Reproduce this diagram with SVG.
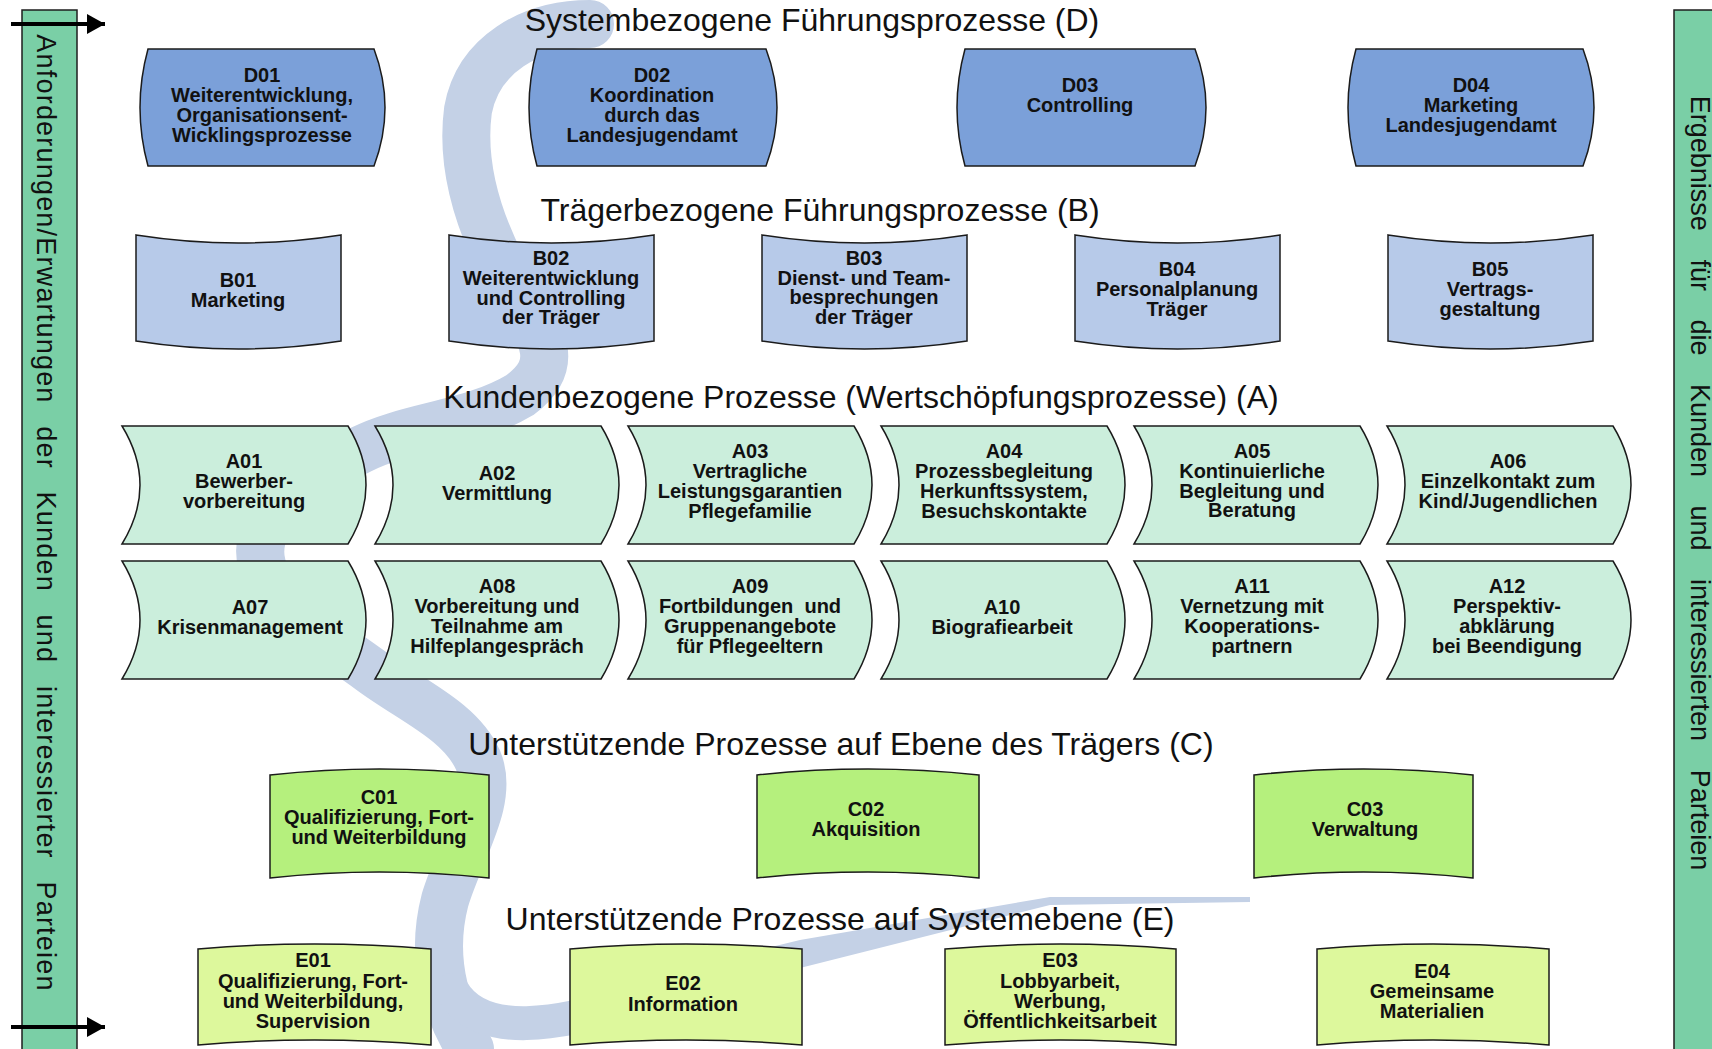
<svg xmlns="http://www.w3.org/2000/svg" width="1712" height="1049" viewBox="0 0 1712 1049">
<defs>
<style>
.title{font-family:"Liberation Sans",Arial,sans-serif;font-size:32px;fill:#111;text-anchor:middle}
.lbl{font-family:"Liberation Sans",Arial,sans-serif;font-size:20px;font-weight:bold;fill:#111;text-anchor:middle}
.bar{fill:#7acfa6;stroke:#1e1e1e;stroke-width:1.5}
.bartxt{font-family:"Liberation Sans",Arial,sans-serif;fill:#111;text-anchor:middle}
.sd{fill:#7ba0d9;stroke:#1b1b1b;stroke-width:1.5}
.sb{fill:#b7cae9;stroke:#1b1b1b;stroke-width:1.5}
.sa{fill:#cbeedc;stroke:#1b1b1b;stroke-width:1.5}
.sc{fill:#b5f07d;stroke:#1b1b1b;stroke-width:1.5}
.se{fill:#ddf89c;stroke:#1b1b1b;stroke-width:1.5}
.river{fill:none;stroke:#c4d1e6;stroke-linecap:round;stroke-linejoin:round}
.arr{stroke:#000;stroke-width:4;fill:none}
</style>
<marker id="ah" markerUnits="userSpaceOnUse" markerWidth="20" markerHeight="22" refX="18" refY="10" orient="auto">
<path d="M0,0 L18,10 L0,20 Z" fill="#000"/>
</marker>
</defs>
<rect width="1712" height="1049" fill="#fff"/>

<g id="background-river">
<path class="river" stroke-width="48" d="M 590,24 C 530,24 478,55 468,110 C 460,170 480,230 515,290 C 545,340 560,365 520,395 C 470,425 410,425 360,450 C 300,480 250,520 262,565 C 272,610 330,640 370,670 C 410,700 460,720 478,760 C 495,800 460,850 445,900 C 432,950 440,1000 470,1049"/>
<path class="river" stroke-width="34" d="M 452,990 C 480,1040 560,1025 640,1000"/>
<polygon fill="#c4d1e6" points="620,984 800,940 1050,897 1250,897 1250,902 1050,905 800,968 650,1017"/>
</g>

<g id="bar-left">
<rect class="bar" x="22" y="10" width="55" height="1050"/>
<text class="bartxt" font-size="27" letter-spacing="1.2" word-spacing="14" transform="translate(37,513) rotate(90)">Anforderungen/Erwartungen der Kunden und interessierter Parteien</text>
</g>
<g id="bar-right">
<rect class="bar" x="1674" y="10" width="60" height="1050"/>
<text class="bartxt" font-size="27" word-spacing="21" transform="translate(1691,483) rotate(90)">Ergebnisse für die Kunden und interessierten Parteien</text>
</g>

<g id="connectors">
<line class="arr" x1="11" y1="24" x2="105" y2="24" marker-end="url(#ah)"/>
<line class="arr" x1="11" y1="1027" x2="105" y2="1027" marker-end="url(#ah)"/>
</g>

<g id="titles">
<text class="title" x="812" y="31">Systembezogene Führungsprozesse (D)</text>
<text class="title" x="820" y="221">Trägerbezogene Führungsprozesse (B)</text>
<text class="title" x="861" y="408">Kundenbezogene Prozesse (Wertschöpfungsprozesse) (A)</text>
<text class="title" x="841" y="755">Unterstützende Prozesse auf Ebene des Trägers (C)</text>
<text class="title" x="840" y="930">Unterstützende Prozesse auf Systemebene (E)</text>
</g>

<g id="D01"><path class="sd" d="M148,49 L374,49 Q396,107.5 374,166 L148,166 Q132,107.5 148,49 Z"/>
<text class="lbl"><tspan x="262" y="82">D01</tspan><tspan x="262" y="102">Weiterentwicklung,</tspan><tspan x="262" y="122">Organisationsent-</tspan><tspan x="262" y="142">Wicklingsprozesse</tspan></text></g>
<g id="D02"><path class="sd" d="M537,49 L766,49 Q788,107.5 766,166 L537,166 Q521,107.5 537,49 Z"/>
<text class="lbl"><tspan x="652" y="82">D02</tspan><tspan x="652" y="102">Koordination</tspan><tspan x="652" y="122">durch das</tspan><tspan x="652" y="142">Landesjugendamt</tspan></text></g>
<g id="D03"><path class="sd" d="M965,49 L1195,49 Q1217,107.5 1195,166 L965,166 Q949,107.5 965,49 Z"/>
<text class="lbl"><tspan x="1080" y="92">D03</tspan><tspan x="1080" y="112">Controlling</tspan></text></g>
<g id="D04"><path class="sd" d="M1356,49 L1583,49 Q1605,107.5 1583,166 L1356,166 Q1340,107.5 1356,49 Z"/>
<text class="lbl"><tspan x="1471" y="92">D04</tspan><tspan x="1471" y="112">Marketing</tspan><tspan x="1471" y="132">Landesjugendamt</tspan></text></g>

<g id="B01"><path class="sb" d="M136,235 Q238.5,251 341,235 L341,341 Q238.5,357 136,341 Z"/>
<text class="lbl"><tspan x="238" y="287">B01</tspan><tspan x="238" y="307">Marketing</tspan></text></g>
<g id="B02"><path class="sb" d="M449,235 Q551.5,251 654,235 L654,341 Q551.5,357 449,341 Z"/>
<text class="lbl"><tspan x="551" y="265">B02</tspan><tspan x="551" y="285">Weiterentwicklung</tspan><tspan x="551" y="305">und Controlling</tspan><tspan x="551" y="324">der Träger</tspan></text></g>
<g id="B03"><path class="sb" d="M762,235 Q864.5,251 967,235 L967,341 Q864.5,357 762,341 Z"/>
<text class="lbl"><tspan x="864" y="265">B03</tspan><tspan x="864" y="285">Dienst- und Team-</tspan><tspan x="864" y="304">besprechungen</tspan><tspan x="864" y="324">der Träger</tspan></text></g>
<g id="B04"><path class="sb" d="M1075,235 Q1177.5,251 1280,235 L1280,341 Q1177.5,357 1075,341 Z"/>
<text class="lbl"><tspan x="1177" y="276">B04</tspan><tspan x="1177" y="296">Personalplanung</tspan><tspan x="1177" y="316">Träger</tspan></text></g>
<g id="B05"><path class="sb" d="M1388,235 Q1490.5,251 1593,235 L1593,341 Q1490.5,357 1388,341 Z"/>
<text class="lbl"><tspan x="1490" y="276">B05</tspan><tspan x="1490" y="296">Vertrags-</tspan><tspan x="1490" y="316">gestaltung</tspan></text></g>

<g id="A01"><path class="sa" d="M122,426 L348,426 Q384,485 348,544 L122,544 Q158,485 122,426 Z"/>
<text class="lbl"><tspan x="244" y="468">A01</tspan><tspan x="244" y="488">Bewerber-</tspan><tspan x="244" y="508">vorbereitung</tspan></text></g>
<g id="A02"><path class="sa" d="M375,426 L601,426 Q637,485 601,544 L375,544 Q411,485 375,426 Z"/>
<text class="lbl"><tspan x="497" y="480">A02</tspan><tspan x="497" y="500">Vermittlung</tspan></text></g>
<g id="A03"><path class="sa" d="M628,426 L854,426 Q890,485 854,544 L628,544 Q664,485 628,426 Z"/>
<text class="lbl"><tspan x="750" y="458">A03</tspan><tspan x="750" y="478">Vertragliche</tspan><tspan x="750" y="498">Leistungsgarantien</tspan><tspan x="750" y="518">Pflegefamilie</tspan></text></g>
<g id="A04"><path class="sa" d="M881,426 L1107,426 Q1143,485 1107,544 L881,544 Q917,485 881,426 Z"/>
<text class="lbl"><tspan x="1004" y="458">A04</tspan><tspan x="1004" y="478">Prozessbegleitung</tspan><tspan x="1004" y="498">Herkunftssystem,</tspan><tspan x="1004" y="518">Besuchskontakte</tspan></text></g>
<g id="A05"><path class="sa" d="M1134,426 L1360,426 Q1396,485 1360,544 L1134,544 Q1170,485 1134,426 Z"/>
<text class="lbl"><tspan x="1252" y="458">A05</tspan><tspan x="1252" y="478">Kontinuierliche</tspan><tspan x="1252" y="498">Begleitung und</tspan><tspan x="1252" y="517">Beratung</tspan></text></g>
<g id="A06"><path class="sa" d="M1387,426 L1613,426 Q1649,485 1613,544 L1387,544 Q1423,485 1387,426 Z"/>
<text class="lbl"><tspan x="1508" y="468">A06</tspan><tspan x="1508" y="488">Einzelkontakt zum</tspan><tspan x="1508" y="508">Kind/Jugendlichen</tspan></text></g>

<g id="A07"><path class="sa" d="M122,561 L348,561 Q384,620 348,679 L122,679 Q158,620 122,561 Z"/>
<text class="lbl"><tspan x="250" y="614">A07</tspan><tspan x="250" y="634">Krisenmanagement</tspan></text></g>
<g id="A08"><path class="sa" d="M375,561 L601,561 Q637,620 601,679 L375,679 Q411,620 375,561 Z"/>
<text class="lbl"><tspan x="497" y="593">A08</tspan><tspan x="497" y="613">Vorbereitung und</tspan><tspan x="497" y="633">Teilnahme am</tspan><tspan x="497" y="653">Hilfeplangespräch</tspan></text></g>
<g id="A09"><path class="sa" d="M628,561 L854,561 Q890,620 854,679 L628,679 Q664,620 628,561 Z"/>
<text class="lbl" xml:space="preserve"><tspan x="750" y="593">A09</tspan><tspan x="750" y="613">Fortbildungen  und</tspan><tspan x="750" y="633">Gruppenangebote</tspan><tspan x="750" y="653">für Pflegeeltern</tspan></text></g>
<g id="A10"><path class="sa" d="M881,561 L1107,561 Q1143,620 1107,679 L881,679 Q917,620 881,561 Z"/>
<text class="lbl"><tspan x="1002" y="614">A10</tspan><tspan x="1002" y="634">Biografiearbeit</tspan></text></g>
<g id="A11"><path class="sa" d="M1134,561 L1360,561 Q1396,620 1360,679 L1134,679 Q1170,620 1134,561 Z"/>
<text class="lbl"><tspan x="1252" y="593">A11</tspan><tspan x="1252" y="613">Vernetzung mit</tspan><tspan x="1252" y="633">Kooperations-</tspan><tspan x="1252" y="653">partnern</tspan></text></g>
<g id="A12"><path class="sa" d="M1387,561 L1613,561 Q1649,620 1613,679 L1387,679 Q1423,620 1387,561 Z"/>
<text class="lbl"><tspan x="1507" y="593">A12</tspan><tspan x="1507" y="613">Perspektiv-</tspan><tspan x="1507" y="633">abklärung</tspan><tspan x="1507" y="653">bei Beendigung</tspan></text></g>

<g id="C01"><path class="sc" d="M270,775 Q379.5,763 489,775 L489,878 Q379.5,866 270,878 Z"/>
<text class="lbl"><tspan x="379" y="804">C01</tspan><tspan x="379" y="824">Qualifizierung, Fort-</tspan><tspan x="379" y="844">und Weiterbildung</tspan></text></g>
<g id="C02"><path class="sc" d="M757,775 Q868,763 979,775 L979,878 Q868,866 757,878 Z"/>
<text class="lbl"><tspan x="866" y="816">C02</tspan><tspan x="866" y="836">Akquisition</tspan></text></g>
<g id="C03"><path class="sc" d="M1254,775 Q1363.5,763 1473,775 L1473,878 Q1363.5,866 1254,878 Z"/>
<text class="lbl"><tspan x="1365" y="816">C03</tspan><tspan x="1365" y="836">Verwaltung</tspan></text></g>

<g id="E01"><path class="se" d="M198,949 Q314.5,939 431,949 L431,1045 Q314.5,1035 198,1045 Z"/>
<text class="lbl"><tspan x="313" y="967">E01</tspan><tspan x="313" y="988">Qualifizierung, Fort-</tspan><tspan x="313" y="1008">und Weiterbildung,</tspan><tspan x="313" y="1028">Supervision</tspan></text></g>
<g id="E02"><path class="se" d="M570,949 Q686,939 802,949 L802,1045 Q686,1035 570,1045 Z"/>
<text class="lbl"><tspan x="683" y="990">E02</tspan><tspan x="683" y="1011">Information</tspan></text></g>
<g id="E03"><path class="se" d="M945,949 Q1060.5,939 1176,949 L1176,1045 Q1060.5,1035 945,1045 Z"/>
<text class="lbl"><tspan x="1060" y="967">E03</tspan><tspan x="1060" y="988">Lobbyarbeit,</tspan><tspan x="1060" y="1008">Werbung,</tspan><tspan x="1060" y="1028">Öffentlichkeitsarbeit</tspan></text></g>
<g id="E04"><path class="se" d="M1317,949 Q1433,939 1549,949 L1549,1045 Q1433,1035 1317,1045 Z"/>
<text class="lbl"><tspan x="1432" y="978">E04</tspan><tspan x="1432" y="998">Gemeinsame</tspan><tspan x="1432" y="1018">Materialien</tspan></text></g>
</svg>
